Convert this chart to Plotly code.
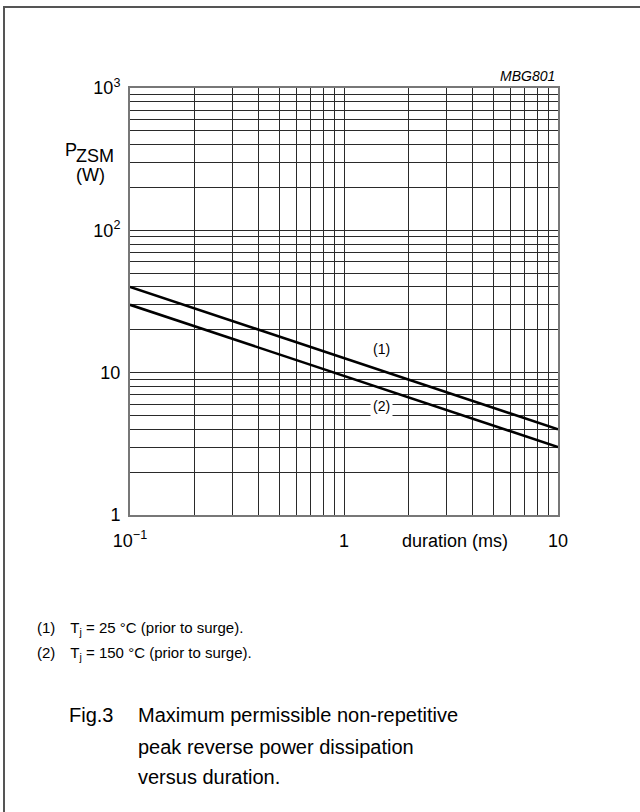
import plotly.graph_objects as go

# ---- data ----
duration_ms = [0.1, 10]
p_tj25 = [40, 4]      # curve (1)
p_tj150 = [30, 3]     # curve (2)

x_tickvals = [0.1, 1, 10]
x_ticktext = ["10<sup>\u22121</sup>", "1", "10"]
y_tickvals = [1, 10, 100, 1000]
y_ticktext = ["1", "10", "10<sup>2</sup>", "10<sup>3</sup>"]

FONT = "Liberation Sans, Arial, sans-serif"

fig = go.Figure()
fig.add_trace(go.Scatter(x=duration_ms, y=p_tj25, mode="lines",
                         line=dict(color="black", width=2.6), showlegend=False))
fig.add_trace(go.Scatter(x=duration_ms, y=p_tj150, mode="lines",
                         line=dict(color="black", width=2.6), showlegend=False))

L, R, T, B = 130, 558, 88, 515
W, H = 640, 812
pw, ph = R - L, B - T


def px(x):
    return (x - L) / pw


def py(y):
    return (B - y) / ph


grid_col = "#2a2a2a"
fig.update_xaxes(type="log", range=[-1, 1], tickvals=x_tickvals, ticktext=x_ticktext,
                 showgrid=True, gridcolor=grid_col, gridwidth=1,
                 minor=dict(dtick="D1", showgrid=True, gridcolor=grid_col, gridwidth=1, ticks=""),
                 showline=True, linecolor="#777", linewidth=2, mirror=True,
                 ticks="", zeroline=False, ticklabelstandoff=8,
                 tickfont=dict(family=FONT, size=18, color="black"))
fig.update_yaxes(type="log", range=[0, 3], tickvals=y_tickvals, ticktext=y_ticktext,
                 showgrid=True, gridcolor=grid_col, gridwidth=1,
                 minor=dict(dtick="D1", showgrid=True, gridcolor=grid_col, gridwidth=1, ticks=""),
                 showline=True, linecolor="#777", linewidth=2, mirror=True,
                 ticks="", zeroline=False, ticklabelstandoff=4,
                 tickfont=dict(family=FONT, size=18, color="black"))

ann = []


def add(text, x, y, size, xanchor="center", yanchor="middle", **kw):
    ann.append(dict(text=text, x=x, y=y, xref="paper", yref="paper", showarrow=False,
                    xanchor=xanchor, yanchor=yanchor,
                    font=dict(family=FONT, size=size, color="black"), **kw))


add("<i>MBG801</i>", px(557), py(76), 14, xanchor="right")
add("P", px(78), py(150), 18, xanchor="right", borderpad=0)
add("ZSM", px(75), py(156), 18, xanchor="left", borderpad=0)
add("(W)", px(90), py(175), 18)
add("duration (ms)", px(455), py(541), 18)
add("(1)", px(381), py(349), 14)
add("(2)", px(381), py(406), 14, bgcolor="white", borderpad=2)
add("(1)\u2003T<sub>j</sub> = 25 \u00b0C (prior to surge).", px(35), py(628), 15, xanchor="left")
add("(2)\u2003T<sub>j</sub> = 150 \u00b0C (prior to surge).", px(35), py(653), 15, xanchor="left")
add("Fig.3", px(67), py(715), 20, xanchor="left")
add("Maximum permissible non-repetitive", px(136), py(715), 20, xanchor="left")
add("peak reverse power dissipation", px(136), py(747), 20, xanchor="left")
add("versus duration.", px(136), py(777), 20, xanchor="left")

fig.update_layout(
    width=W, height=H,
    margin=dict(l=L, r=W - R, t=T, b=H - B),
    paper_bgcolor="white", plot_bgcolor="white",
    annotations=ann,
    shapes=[dict(type="rect", xref="paper", yref="paper",
                 x0=px(4), x1=px(660), y0=py(7), y1=py(830),
                 line=dict(color="#555", width=2), layer="below")],
    font=dict(family=FONT),
)

fig.write_html("out.html",
               config={"displayModeBar": False},
               post_script="document.body.style.margin='0';"
                           "document.body.style.overflow='hidden';"
                           "document.documentElement.style.overflow='hidden';")
